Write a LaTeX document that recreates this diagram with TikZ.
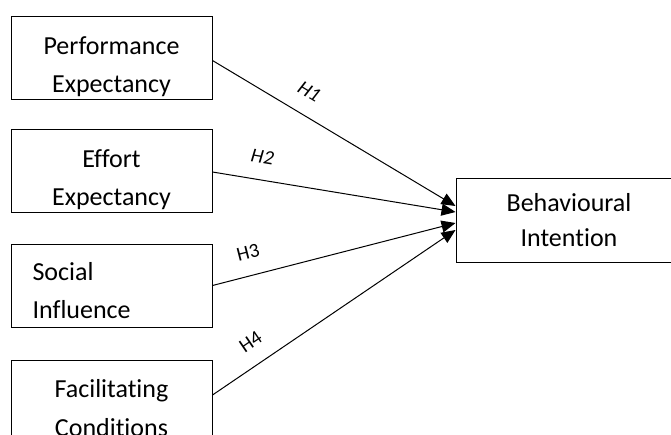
\documentclass[tikz,border=0pt]{standalone}
\usepackage{fontspec}
\setmainfont{Carlito}[Ligatures=NoCommon]
\usetikzlibrary{arrows.meta}
\tikzset{x=1pt, y=-1pt,
  boxtext/.style={draw=none, minimum width=0pt, minimum height=0pt, inner sep=0pt, font=\fontsize{26}{38.5}\selectfont},
  construct/.style={draw, line width=1pt, minimum width=201pt, minimum height=83pt, inner sep=0pt,
    path picture={\clip (path picture bounding box.north west) rectangle ([yshift=2pt]path picture bounding box.south east);
      \node[boxtext, align=center, anchor=base]
        at ([yshift=-76pt]path picture bounding box.north) {#1};}},
  constructl/.style={draw, line width=1pt, minimum width=201pt, minimum height=83pt, inner sep=0pt,
    path picture={\clip (path picture bounding box.north west) rectangle ([yshift=2pt]path picture bounding box.south east);
      \node[boxtext, text width=170pt, align=left, anchor=base west]
        at ([xshift=21pt, yshift=-36pt]path picture bounding box.north west) {#1};}},
  hyp/.style={sloped, above=13pt, inner sep=3pt, font=\fontsize{20}{24}\selectfont},
  link/.style={line width=1pt, -{Triangle[length=14pt, width=12pt]}}}
\begin{document}
\begin{tikzpicture}
				\useasboundingbox (0,0) rectangle (671,434);
				\clip (0,0) rectangle (671,434);

				\node[construct={Performance\\Expectancy}] (PE) at (111.5,58) {};
				\node[construct={Effort\\Expectancy}] (EE) at (111.5,171) {};
				\node[constructl={Social\\Influence}] (SI) at (111.5,285.5) {};
				\node[construct={Facilitating\\Conditions}] (FC) at (111.5,401.5) {};

				\node[draw, line width=1pt, minimum width=226pt, minimum height=84pt, align=center,
				  font=\fontsize{26}{35}\selectfont] (BI) at (569,220) {Behavioural\\Intention};

				\path[link]
				([yshift=-2.5pt]PE.east) edge node[hyp, pos=0.35] {\textit{H1}} ([yshift=14pt]BI.west)
				([yshift=-1pt]EE.east) edge node[hyp, pos=0.19] {\textit{H2}} ([yshift=8pt]BI.west)
				(SI.east) edge node[hyp, pos=0.17] {H3} ([yshift=-3pt]BI.west)
				([yshift=6.5pt]FC.east) edge node[hyp, pos=0.21] {H4} ([yshift=-10pt]BI.west);
			\end{tikzpicture}
\end{document}
